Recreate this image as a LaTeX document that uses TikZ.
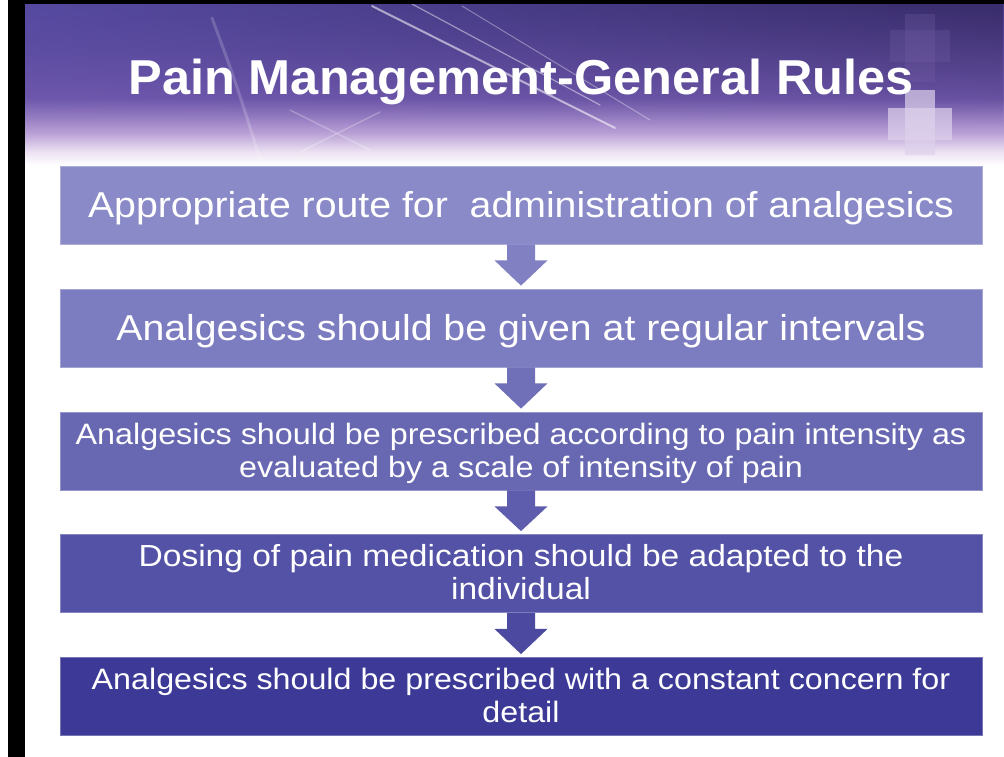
\documentclass[tikz,border=0pt]{standalone}
\usepackage{fontspec}
\setmainfont{Liberation Sans}
\usetikzlibrary{calc,fadings}
\definecolor{bxA}{RGB}{138,138,200}
\definecolor{bxB}{RGB}{124,124,192}
\definecolor{bxC}{RGB}{104,104,178}
\definecolor{bxD}{RGB}{84,82,166}
\definecolor{bxE}{RGB}{60,58,150}
\definecolor{arA}{RGB}{128,128,194}
\definecolor{arB}{RGB}{112,112,184}
\definecolor{arC}{RGB}{94,92,172}
\definecolor{arD}{RGB}{76,74,160}
\definecolor{hdrTop}{RGB}{78,62,142}
\definecolor{hdrMid}{RGB}{112,88,172}
\definecolor{hdrLow}{RGB}{182,156,212}
\definecolor{hdrPale}{RGB}{236,226,242}
\definecolor{hdrDark}{RGB}{40,30,78}
\definecolor{hdrBlue}{RGB}{92,84,176}
\definecolor{crossLight}{RGB}{222,210,236}
\definecolor{crossFaint}{RGB}{120,100,170}
\pgfdeclareverticalshading{hdrshade}{100bp}{color(0bp)=(white); color(25bp)=(white); color(27bp)=(white); color(31bp)=(hdrPale); color(37bp)=(hdrLow); color(47bp)=(hdrMid); color(75bp)=(hdrTop); color(100bp)=(hdrTop)}
\tikzfading[name=fadedown, top color=transparent!0, bottom color=transparent!100]
\tikzset{
  flowbox/.style={rectangle, minimum width=922pt, minimum height=78pt, inner sep=0pt},
  boxtext/.style={text=white, inner sep=0pt},
  streak/.style={white, line cap=round},
}
\newcommand\flowarrow[3]{%
  \fill[#3] ($(#1.south)+(-14,0)$) -- ($(#1.south)+(-14,16)$) -- ($(#1.south)+(-26.5,16)$)
    -- ($(#2.north)+(0,-3)$) -- ($(#1.south)+(26.5,16)$) -- ($(#1.south)+(14,16)$)
    -- ($(#1.south)+(14,0)$) -- cycle;}
\newcommand\twolines[3]{\scalebox{#1}[1]{\begin{tabular}{@{}c@{}}#2\\#3\end{tabular}}}
\begin{document}
\begin{tikzpicture}[x=1pt,y=-1pt]
\useasboundingbox (0,0) rectangle (1004,757);
\fill[white] (0,0) rectangle (1004,757);
% header background
\shade[shading=hdrshade] (25,4) rectangle (1004,172);
\shade[left color=hdrBlue, right color=hdrDark, path fading=fadedown, fill opacity=0.55] (25,4) rectangle (1004,125);
% light streaks
\draw[streak, line width=2pt, opacity=0.55] (372,6) -- (615,128);
\draw[streak, line width=1.2pt, opacity=0.45] (412,4) -- (600,105);
\draw[streak, line width=1pt, opacity=0.35] (462,6) -- (650,120);
\draw[streak, line width=3pt, opacity=0.18] (212,18) .. controls (235,80) .. (262,165);
\draw[streak, line width=1.5pt, opacity=0.25] (290,110) -- (370,150);
\draw[streak, line width=1.5pt, opacity=0.25] (300,152) -- (380,112);
% crosses
\fill[crossFaint, opacity=0.25] (905,14) rectangle (935,82);
\fill[crossFaint, opacity=0.25] (890,30) rectangle (950,62);
\fill[crossLight, opacity=0.7] (905,90) rectangle (935,155);
\fill[crossLight, opacity=0.7] (888,108) rectangle (952,140);
% frame
\fill[black] (8,0) rectangle (25,757);
\fill[black] (8,0) rectangle (1004,4);
% title
\node[text=white, font=\bfseries\fontsize{49}{55}\selectfont, anchor=base, inner sep=0pt] (title) at (521,95) {\scalebox{1.03}[1]{Pain Management-General Rules}};
% boxes
\node[flowbox, fill=bxA, draw=bxA!70!white, line width=0.8pt] (b1) at (521,205) {};
\node[flowbox, fill=bxB, draw=bxB!70!white, line width=0.8pt] (b2) at (521,328) {};
\node[flowbox, fill=bxC, draw=bxC!70!white, line width=0.8pt] (b3) at (521,451) {};
\node[flowbox, fill=bxD, draw=bxD!70!white, line width=0.8pt] (b4) at (521,573.5) {};
\node[flowbox, fill=bxE, draw=bxE!70!white, line width=0.8pt] (b5) at (521,696.5) {};
% arrows
\flowarrow{b1}{b2}{arA}
\flowarrow{b2}{b3}{arB}
\flowarrow{b3}{b4}{arC}
\flowarrow{b4}{b5}{arD}
% texts
\node[boxtext, font=\fontsize{36}{40}\selectfont, anchor=base] (t1) at ($(b1.center)+(0,12)$) {\scalebox{1.09}[1]{Appropriate route for\ \ administration of analgesics}};
\node[boxtext, font=\fontsize{36}{40}\selectfont, anchor=base] (t2) at ($(b2.center)+(0,12)$) {\scalebox{1.09}[1]{Analgesics should be given at regular intervals}};
\node[boxtext, font=\fontsize{29.5}{33}\selectfont] (t3) at ($(b3.center)+(0,3)$) {\twolines{1.095}{Analgesics should be prescribed according to pain intensity as}{evaluated by a scale of intensity of pain}};
\node[boxtext, font=\fontsize{30.5}{33}\selectfont] (t4) at ($(b4.center)+(0,3)$) {\twolines{1.1}{Dosing of pain medication should be adapted to the}{individual}};
\node[boxtext, font=\fontsize{29.5}{33}\selectfont] (t5) at ($(b5.center)+(0,3)$) {\twolines{1.093}{Analgesics should be prescribed with a constant concern for}{detail}};
\end{tikzpicture}
\end{document}
